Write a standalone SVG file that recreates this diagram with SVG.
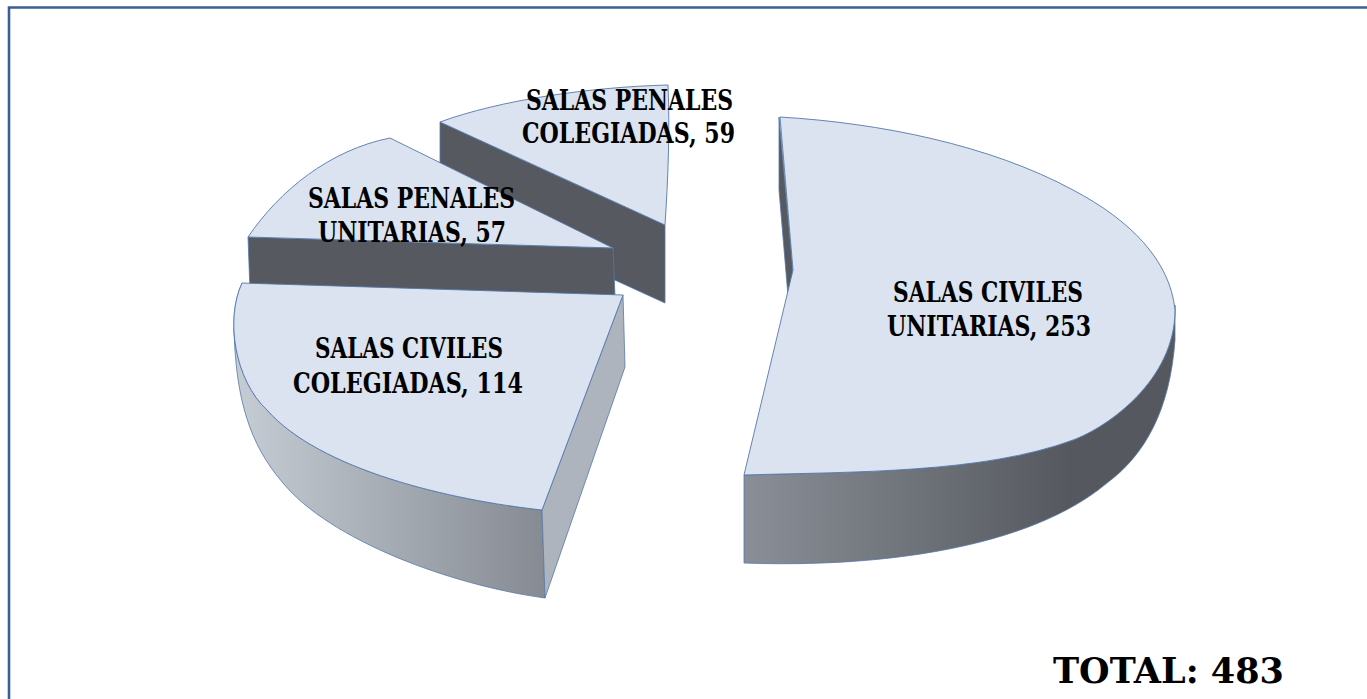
<svg xmlns="http://www.w3.org/2000/svg" width="1367" height="699" viewBox="0 0 1367 699">
<style>
.face{fill:#dae3ef;stroke:#5578aa;stroke-width:0.9;stroke-linejoin:round}
.dark{fill:#56595f;stroke:#5578aa;stroke-width:0.8;stroke-linejoin:round}
.side{fill:#adb4bd;stroke:#5578aa;stroke-width:0.8;stroke-linejoin:round}
.lbl{font-family:"DejaVu Serif","Liberation Serif",serif;font-weight:bold;font-size:27.5px;fill:#000}
.total{font-family:"DejaVu Serif","Liberation Serif",serif;font-weight:bold;font-size:36px;fill:#000}
</style>
<defs>
<linearGradient id="gBig" gradientUnits="userSpaceOnUse" x1="744" y1="0" x2="1070" y2="0">
<stop offset="0" stop-color="#8a8e96"/>
<stop offset="1" stop-color="#55595f"/>
</linearGradient>
<linearGradient id="gLow" gradientUnits="userSpaceOnUse" x1="232" y1="0" x2="545" y2="0">
<stop offset="0" stop-color="#c6cdd5"/>
<stop offset="1" stop-color="#868b93"/>
</linearGradient>
</defs>
<rect width="1367" height="699" fill="#ffffff"/>
<path d="M9,699 L9,7.5 L1367,7.5" fill="none" stroke="#3a5f96" stroke-width="2.6"/>

<g id="slice-penales-colegiadas">
<polygon class="dark" points="440,122 665,225 665,303 440,200"/>
<path class="face" d="M440,122 C500,100 590,87 668,85 C670,130 668,180 665,225 Z"/>
<text class="lbl" x="526" y="110" textLength="207" lengthAdjust="spacingAndGlyphs">SALAS PENALES</text>
<text class="lbl" x="522" y="143" textLength="213" lengthAdjust="spacingAndGlyphs">COLEGIADAS, 59</text>
</g>

<g id="slice-penales-unitarias">
<polygon class="dark" points="248,237 613,248 615,296 250,292"/>
<path class="face" d="M248,237 C280,190 330,150 390,138 L613,248 Z"/>
<text class="lbl" x="308" y="208" textLength="207" lengthAdjust="spacingAndGlyphs">SALAS PENALES</text>
<text class="lbl" x="318" y="242" textLength="188" lengthAdjust="spacingAndGlyphs">UNITARIAS, 57</text>
</g>

<g id="slice-civiles-colegiadas">
<path d="M242,283 C225,320 235,380 267,410 C320,470 450,500 542,510 L545,598 C450,585 330,540 283,483 C250,445 236,400 234,330 Z" fill="url(#gLow)" stroke="#5578aa" stroke-width="0.8"/>
<polygon class="side" points="542,510 623,295 625,367 545,598"/>
<path class="face" d="M242,283 L623,295 L542,510 C450,500 320,470 267,410 C235,380 225,320 242,283 Z"/>
<text class="lbl" x="315" y="358" textLength="188" lengthAdjust="spacingAndGlyphs">SALAS CIVILES</text>
<text class="lbl" x="293" y="393" textLength="230" lengthAdjust="spacingAndGlyphs">COLEGIADAS, 114</text>
</g>

<g id="slice-civiles-unitarias">
<polygon class="dark" points="779,117 779,190 788,296 793,272"/>
<path d="M1175,305 L1175,310 C1175,380 1108,427 1073,440 C983,473.4 854,471.7 744,475 L744,563 C880,568 1030,548 1107,483 C1145,455 1170,410 1175,340 Z" fill="url(#gBig)" stroke="#5578aa" stroke-width="0.8"/>
<path class="face" d="M780,117 C880,123 990,145 1073,190 C1130,220 1170,260 1175,310 C1175,380 1108,427 1073,440 C983,473.4 854,471.7 744,475 L787,295 L793,270 Z"/>
<text class="lbl" x="893" y="302" textLength="190" lengthAdjust="spacingAndGlyphs">SALAS CIVILES</text>
<text class="lbl" x="887" y="336" textLength="204" lengthAdjust="spacingAndGlyphs">UNITARIAS, 253</text>
</g>

<g id="connectors"></g>

<g id="total">
<text class="total" x="1053" y="683" textLength="231" lengthAdjust="spacingAndGlyphs">TOTAL: 483</text>
</g>
</svg>
